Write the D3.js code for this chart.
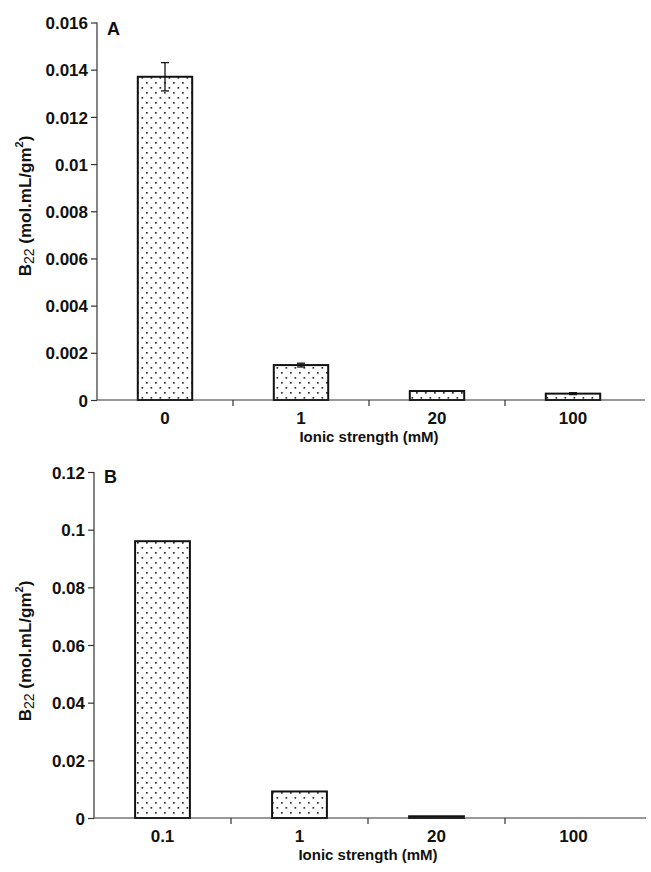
<!DOCTYPE html>
<html>
<head>
<meta charset="utf-8">
<script src="https://cdn.jsdelivr.net/npm/d3@7"></script>
<style>
	body { margin: 0; background: #fff; }
	svg { display: block; font-family: "Liberation Sans", Arial, sans-serif; }
	.tick-label { font-weight: bold; font-size: 17px; fill: #111; }
	.axis-title { font-weight: bold; font-size: 15px; fill: #111; }
	.y-title { font-weight: bold; font-size: 17px; fill: #111; }
</style>
</head>
<body>
<div id="vis"></div>
<script>
// panel A
var catsA = ["0", "1", "20", "100"];
var valsA = [0.0137, 0.00148, 0.00038, 0.00027];
var errsA = [0.0006, 0.00008, 0, 0.00004];
var ticksA = [0, 0.002, 0.004, 0.006, 0.008, 0.01, 0.012, 0.014, 0.016];

// panel B
var catsB = ["0.1", "1", "20", "100"];
var valsB = [0.096, 0.0092, 0.0006, 0];
var errsB = [0, 0, 0, 0];
var ticksB = [0, 0.02, 0.04, 0.06, 0.08, 0.1, 0.12];

var W = 651, H = 872;

var svg = d3.select("#vis").append("svg")
	.attr("width", W)
	.attr("height", H);

// dotted fill like the excel pattern
var defs = svg.append("defs");
var pat = defs.append("pattern")
	.attr("id", "dots")
	.attr("patternUnits", "userSpaceOnUse")
	.attr("width", 9)
	.attr("height", 10);
pat.append("rect").attr("width", 9).attr("height", 10).attr("fill", "#fff");
pat.append("rect").attr("x", 2).attr("y", 2).attr("width", 1.7).attr("height", 1.7).attr("fill", "#333");
pat.append("rect").attr("x", 6.5).attr("y", 7).attr("width", 1.7).attr("height", 1.7).attr("fill", "#333");

function panel (opt) {
	var g = svg.append("g");

	var x = d3.scaleBand()
		.domain(opt.cats)
		.range([opt.left, opt.right])
		.paddingInner(0.6)
		.paddingOuter(0.3);

	var y = d3.scaleLinear()
		.domain([0, opt.max])
		.range([opt.bottom, opt.top]);

	var step = x.step();

	// bars
	g.selectAll(".bar")
	.data(opt.vals)
	.enter()
	.append("rect")
	.attr("x", function (d, i) { return x(opt.cats[i]); })
	.attr("y", function (d) { return y(d); })
	.attr("width", x.bandwidth())
	.attr("height", function (d) { return y(0) - y(d); })
	.attr("fill", "url(#dots)")
	.attr("stroke", function (d) { return d > 0 ? "#111" : "none"; })
	.attr("stroke-width", 2);

	// error bars
	var eb = g.selectAll(".err")
	.data(opt.vals.map(function (d, i) { return {v: d, e: opt.errs[i], c: opt.cats[i]}; })
		.filter(function (d) { return d.e > 0; }))
	.enter()
	.append("g")
	.attr("stroke", "#111")
	.attr("stroke-width", 1.3);

	eb.append("line")
	.attr("x1", function (d) { return x(d.c) + x.bandwidth() / 2; })
	.attr("x2", function (d) { return x(d.c) + x.bandwidth() / 2; })
	.attr("y1", function (d) { return y(d.v - d.e); })
	.attr("y2", function (d) { return y(d.v + d.e); });

	eb.selectAll(".cap")
	.data(function (d) { return [d.v - d.e, d.v + d.e].map(function (v) { return {v: v, c: d.c}; }); })
	.enter()
	.append("line")
	.attr("x1", function (d) { return x(d.c) + x.bandwidth() / 2 - 4; })
	.attr("x2", function (d) { return x(d.c) + x.bandwidth() / 2 + 4; })
	.attr("y1", function (d) { return y(d.v); })
	.attr("y2", function (d) { return y(d.v); });

	// y axis
	var yAxis = g.append("g")
	.attr("transform", "translate(" + opt.left + ",0)")
	.call(d3.axisLeft(y).tickValues(opt.ticks).tickSize(6).tickPadding(3).tickFormat(function (d) { return d3.format("")(+d.toFixed(4)); }));
	yAxis.select(".domain").attr("stroke", "#333").attr("stroke-width", 1.2).attr("d", "M0," + y(opt.max) + "V" + y(0));
	yAxis.selectAll(".tick line").attr("stroke", "#333").attr("stroke-width", 1.2);
	yAxis.selectAll(".tick text").attr("class", "tick-label").attr("dy", "0.36em");

	// x axis, ticks between categories
	var xAxis = g.append("g")
	.attr("transform", "translate(0," + opt.bottom + ")");
	xAxis.append("line")
	.attr("x1", opt.left).attr("x2", opt.right + 4)
	.attr("stroke", "#333").attr("stroke-width", 1.2);
	xAxis.selectAll(".xt")
	.data(opt.cats.slice(1))
	.enter()
	.append("line")
	.attr("x1", function (d) { return x(d) - (step - x.bandwidth()) / 2; })
	.attr("x2", function (d) { return x(d) - (step - x.bandwidth()) / 2; })
	.attr("y1", 0).attr("y2", 6)
	.attr("stroke", "#333").attr("stroke-width", 1.2);
	xAxis.selectAll(".xl")
	.data(opt.cats)
	.enter()
	.append("text")
	.attr("class", "tick-label")
	.attr("x", function (d) { return x(d) + x.bandwidth() / 2; })
	.attr("y", 24)
	.attr("text-anchor", "middle")
	.text(function (d) { return d; });

	g.append("text")
	.attr("class", "axis-title")
	.attr("x", (opt.left + opt.right) / 2)
	.attr("y", opt.bottom + 42)
	.attr("text-anchor", "middle")
	.text("Ionic strength (mM)");

	// y title, rotated with sub and superscript
	var yt = g.append("text")
	.attr("class", "y-title")
	.attr("transform", "translate(31," + opt.ymid + ") rotate(-90)")
	.attr("text-anchor", "middle");
	yt.append("tspan").text("B");
	yt.append("tspan").attr("font-size", "14px").attr("font-weight", "normal").attr("dy", 3).text("22");
	yt.append("tspan").attr("dy", -3).text(" (mol.mL/gm");
	yt.append("tspan").attr("font-size", "11px").attr("dy", -8).text("2");
	yt.append("tspan").attr("dy", 8).text(")");

	g.append("text")
	.attr("x", opt.left + 10)
	.attr("y", opt.top + opt.labelDy)
	.attr("font-weight", "bold")
	.attr("font-size", "18px")
	.attr("fill", "#111")
	.text(opt.name);
}

panel({name: "A", cats: catsA, vals: valsA, errs: errsA, ticks: ticksA, max: 0.016,
	left: 97, right: 641, top: 22.5, bottom: 400, ymid: 206, labelDy: 12});
panel({name: "B", cats: catsB, vals: valsB, errs: errsB, ticks: ticksB, max: 0.12,
	left: 94, right: 642, top: 472, bottom: 818, ymid: 651, labelDy: 11});
</script>
</body>
</html>
